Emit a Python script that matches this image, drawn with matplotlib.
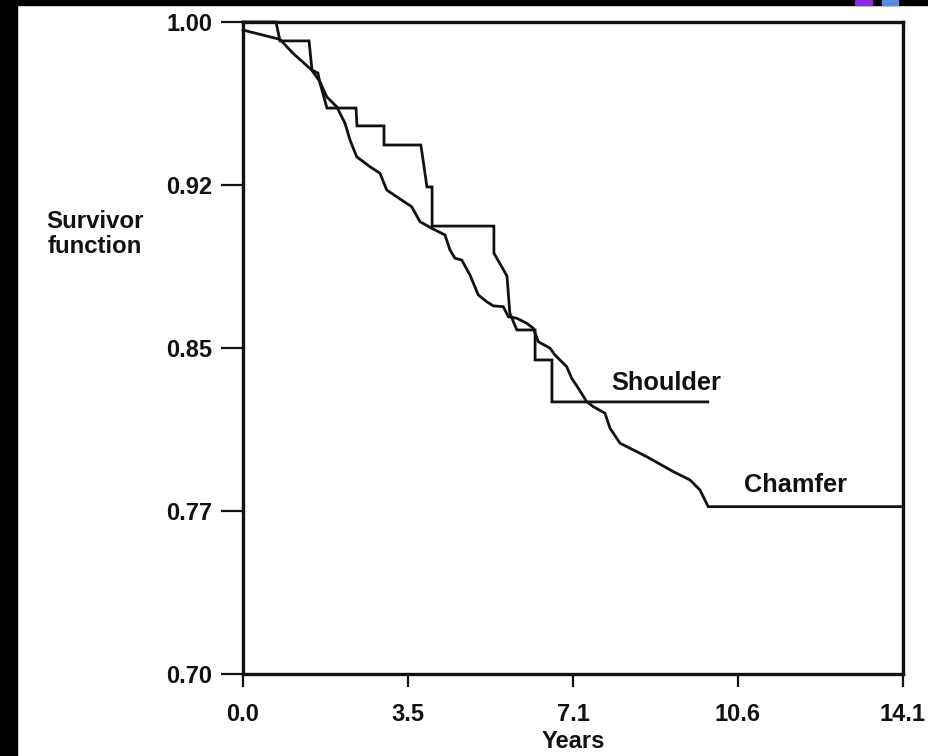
import matplotlib
matplotlib.use("Agg")
import matplotlib.pyplot as plt
from matplotlib.patches import Rectangle

plt.rcParams["font.family"] = ["Liberation Sans", "DejaVu Sans"]
plt.rcParams["font.weight"] = "bold"

INK = "#111111"

# Kaplan-Meier style survivor curves (years, survivor fraction)
shoulder_years = [0.0, 0.705, 0.79, 1.41, 1.474, 1.60, 1.645, 1.794, 2.414, 2.435,
                  3.012, 3.012, 3.80, 3.93, 4.04, 4.04, 5.36, 5.36, 5.64, 5.70,
                  5.85, 6.24, 6.24, 6.60, 6.60, 9.93]
shoulder_surv = [1.0, 1.0, 0.9913, 0.9913, 0.9779, 0.9765, 0.9719, 0.9604, 0.9604, 0.9522,
                 0.9522, 0.9434, 0.9434, 0.9241, 0.9241, 0.9061, 0.9061, 0.8937, 0.8831, 0.8661,
                 0.8583, 0.8583, 0.8445, 0.8445, 0.8252, 0.8252]

chamfer_years = [0.0, 0.790, 1.068, 1.468, 1.645, 1.788, 2.002, 2.179, 2.286, 2.429,
                 2.713, 2.927, 3.070, 3.283, 3.604, 3.781, 4.031, 4.315, 4.422, 4.529,
                 4.672, 4.849, 5.027, 5.206, 5.347, 5.561, 5.668, 5.847, 6.061, 6.202,
                 6.309, 6.559, 6.665, 6.915, 7.022, 7.163, 7.343, 7.484, 7.733, 7.840,
                 8.054, 8.624, 9.193, 9.548, 9.762, 9.939, 14.1]
chamfer_surv = [0.9963, 0.9920, 0.9856, 0.9779, 0.9725, 0.9656, 0.9610, 0.9534, 0.9457, 0.9380,
                0.9334, 0.9304, 0.9227, 0.9196, 0.9150, 0.9081, 0.9051, 0.9020, 0.8951, 0.8913,
                0.8905, 0.8836, 0.8744, 0.8713, 0.8694, 0.8690, 0.8644, 0.8637, 0.8614, 0.8591,
                0.8529, 0.8499, 0.8468, 0.8414, 0.8361, 0.8315, 0.8253, 0.8230, 0.8200, 0.8131,
                0.8062, 0.8000, 0.7931, 0.7893, 0.7847, 0.7770, 0.7770]

x_ticks = [0.0, 3.525, 7.05, 10.575, 14.1]
x_labels = ["0.0", "3.5", "7.1", "10.6", "14.1"]
y_ticks = [0.70, 0.775, 0.85, 0.925, 1.00]
y_labels = ["0.70", "0.77", "0.85", "0.92", "1.00"]

fig = plt.figure(figsize=(9.29, 7.56), dpi=100)
ax = fig.add_axes([243 / 929, 1 - 674 / 756, 660 / 929, 652 / 756])

ax.plot(shoulder_years, shoulder_surv, color=INK, lw=2.0, clip_on=False,
        solid_joinstyle="miter")
ax.plot(chamfer_years, chamfer_surv, color=INK, lw=2.0, clip_on=False,
        solid_joinstyle="miter")

ax.text(7.86, 0.8307, "Shoulder", fontsize=18.3, fontweight="bold", color=INK,
        va="baseline", ha="left")
ax.text(10.70, 0.7837, "Chamfer", fontsize=18.3, fontweight="bold", color=INK,
        va="baseline", ha="left")

ax.set_xlim(0, 14.1)
ax.set_ylim(0.70, 1.00)
ax.set_xticks(x_ticks)
ax.set_xticklabels(x_labels)
ax.set_yticks(y_ticks)
ax.set_yticklabels(y_labels)
ax.tick_params(axis="y", direction="out", length=16, width=1.6, pad=6,
               labelsize=17, colors=INK)
ax.tick_params(axis="x", direction="out", length=9, width=1.6, pad=12,
               labelsize=17, colors=INK)
for lab in ax.get_xticklabels() + ax.get_yticklabels():
    lab.set_fontweight("bold")
for s in ax.spines.values():
    s.set_linewidth(2.4)
    s.set_color(INK)

ax.set_xlabel("Years", fontsize=17, fontweight="bold", color=INK, labelpad=3)
fig.text(95 / 929, 1 - 234 / 756, "Survivor\nfunction", fontsize=17.3,
         fontweight="bold", color=INK, ha="center", va="center",
         multialignment="center", linespacing=1.1)

# scanner border bits around the picture
fig.patches.append(Rectangle((0, 0), 17 / 929, 1, transform=fig.transFigure,
                             color="black", zorder=5))
fig.patches.append(Rectangle((0, 1 - 5 / 756), 1, 5 / 756, transform=fig.transFigure,
                             color="black", zorder=5))
fig.patches.append(Rectangle((855 / 929, 1 - 5 / 756), 17 / 929, 5 / 756,
                             transform=fig.transFigure, color="#8a2be2", zorder=6))
fig.patches.append(Rectangle((882 / 929, 1 - 5 / 756), 16 / 929, 5 / 756,
                             transform=fig.transFigure, color="#5b8be0", zorder=6))

fig.savefig("out.png", dpi=100, facecolor="white")
